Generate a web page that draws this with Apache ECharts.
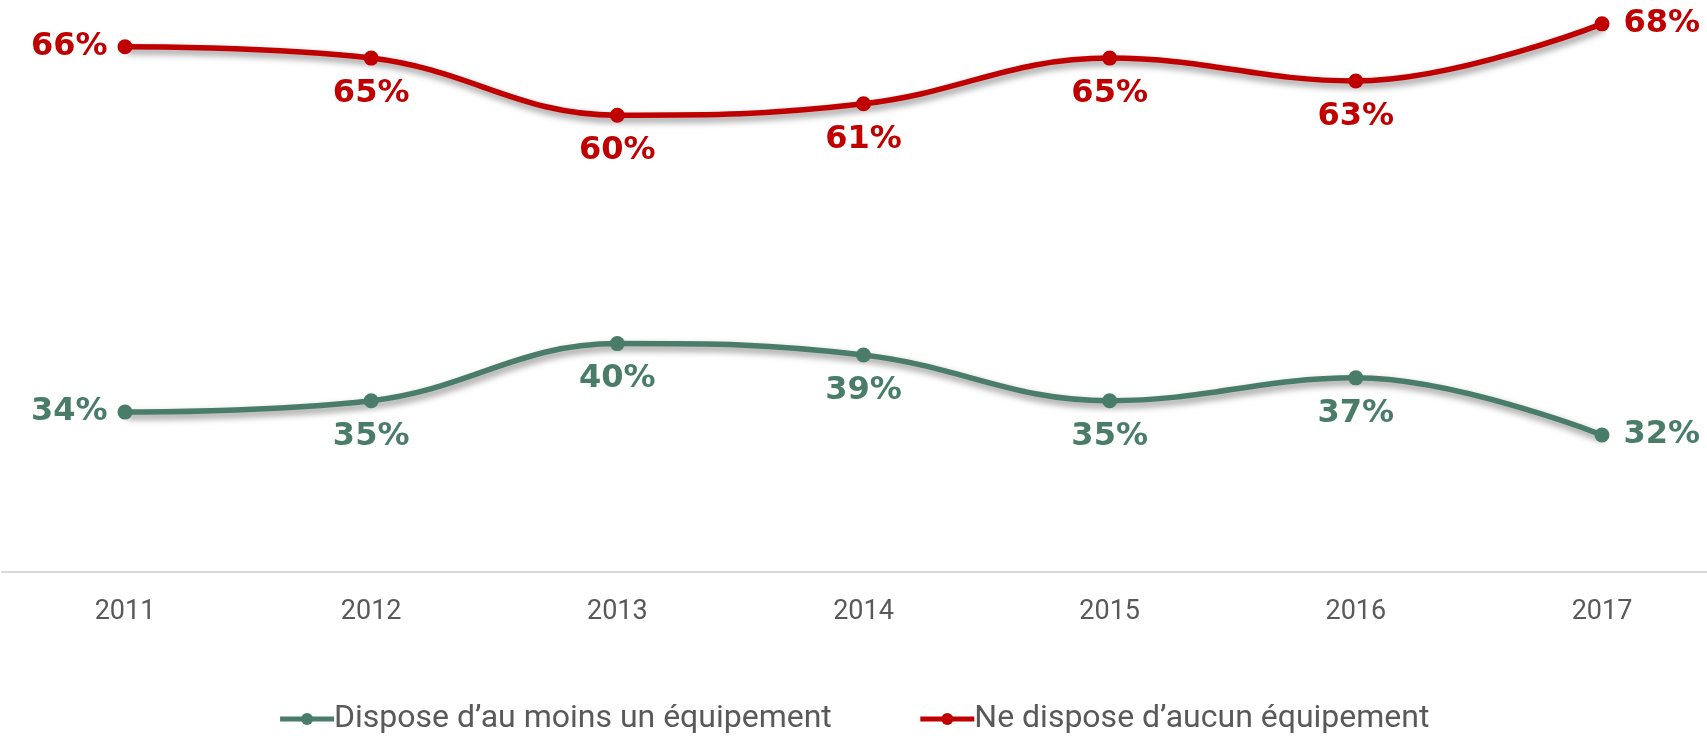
<!DOCTYPE html>
<html>
<head>
<meta charset="utf-8">
<script src="https://cdn.jsdelivr.net/npm/echarts@6/dist/echarts.min.js"></script>
<style>
  html, body { margin: 0; padding: 0; background: #fff; }
  #chart { width: 1707px; height: 740px; }
</style>
</head>
<body>
<div id="chart"></div>
<script>
const years = ['2011', '2012', '2013', '2014', '2015', '2016', '2017'];
const auMoinsUn = [34, 35, 40, 39, 35, 37, 32];
const aucun = [66, 65, 60, 61, 65, 63, 68];
const seriesNames = ['Dispose d\u2019au moins un équipement', 'Ne dispose d\u2019aucun équipement'];
const seriesColors = ['#4A7C6A', '#C00000'];

const chart = echarts.init(document.getElementById('chart'));

// first point label on the left, last on the right, others below
function pointLabels(values) {
    return values.map((v, i) => {
        let pos = 'bottom';
        let dist = 12;
        if (i === 0) { pos = 'left'; dist = 10; }
        if (i === values.length - 1) { pos = 'right'; dist = 14; }
        return {
            value: v,
            label: { position: pos, distance: dist }
        };
    });
}

function makeSeries(name, values, color) {
    return {
        name: name,
        type: 'line',
        smooth: 0.4,
        symbol: 'circle',
        symbolSize: 15,
        itemStyle: { color: color },
        lineStyle: {
            width: 5.5,
            color: color,
            shadowColor: 'rgba(0,0,0,0.45)',
            shadowBlur: 7,
            shadowOffsetX: 2,
            shadowOffsetY: 4
        },
        label: {
            show: true,
            formatter: '{c}%',
            color: color,
            fontFamily: 'DejaVu Sans',
            fontWeight: 'bold',
            fontSize: 32
        },
        emphasis: { disabled: true },
        data: pointLabels(values)
    };
}

const option = {
    animation: false,
    backgroundColor: '#fff',
    grid: [
        // plot area for the two lines
        { left: 125, right: 105, top: 1, bottom: 168 },
        // full width grid, only used to draw the long axis line
        { left: 2, right: 0, top: 1, bottom: 168 }
    ],
    legend: {
        bottom: 0,
        left: 'center',
        itemWidth: 54,
        itemHeight: 15,
        itemGap: 86,
        lineStyle: { width: 5, shadowBlur: 0, shadowOffsetX: 0, shadowOffsetY: 0 },
        textStyle: {
            fontFamily: 'Roboto, sans-serif',
            fontSize: 32,
            color: '#595959',
            padding: [0, 0, 0, -5]
        },
        data: seriesNames
    },
    xAxis: [
        {
            type: 'category',
            gridIndex: 0,
            data: years,
            boundaryGap: false,
            axisLine: { show: false },
            axisTick: { show: false },
            axisLabel: {
                margin: 27,
                fontFamily: 'Roboto, sans-serif',
                fontSize: 27,
                color: '#595959'
            }
        },
        {
            type: 'category',
            gridIndex: 1,
            data: years,
            axisLine: { lineStyle: { color: '#D9D9D9', width: 2 } },
            axisTick: { show: false },
            axisLabel: { show: false }
        }
    ],
    yAxis: [
        { type: 'value', gridIndex: 0, min: 20, max: 70, show: false },
        { type: 'value', gridIndex: 1, min: 20, max: 70, show: false }
    ],
    series: [
        makeSeries(seriesNames[0], auMoinsUn, seriesColors[0]),
        makeSeries(seriesNames[1], aucun, seriesColors[1])
    ]
};

chart.setOption(option);
</script>
</body>
</html>
